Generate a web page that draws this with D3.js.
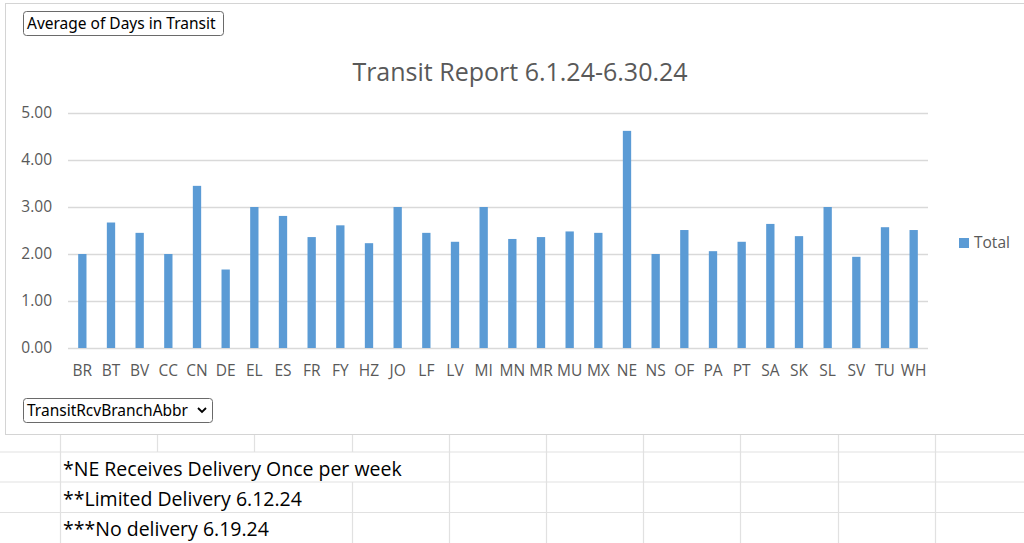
<!DOCTYPE html>
<html>
<head>
<meta charset="utf-8">
<script src="https://cdn.jsdelivr.net/npm/d3@7"></script>
<style>
  html, body { margin: 0; padding: 0; background: #fff; }
  svg { display: block; font-family: "Open Sans", "Noto Sans", sans-serif; }
</style>
</head>
<body>
<div id="chart"></div>
<script>
// Transit report: average days in transit by receiving branch.
const branches = ["BR", "BT", "BV", "CC", "CN", "DE", "EL", "ES", "FR", "FY",
  "HZ", "JO", "LF", "LV", "MI", "MN", "MR", "MU", "MX", "NE",
  "NS", "OF", "PA", "PT", "SA", "SK", "SL", "SV", "TU", "WH"];
const avgDays = [2.00, 2.67, 2.45, 2.00, 3.45, 1.67, 3.00, 2.81, 2.36, 2.61,
  2.23, 3.00, 2.45, 2.26, 3.00, 2.32, 2.36, 2.48, 2.45, 4.62,
  2.00, 2.51, 2.06, 2.26, 2.64, 2.38, 3.00, 1.94, 2.57, 2.51];
const yTicks = [0, 1, 2, 3, 4, 5];
const seriesName = "Total";
const chartTitle = "Transit Report 6.1.24-6.30.24";
const notes = [
  "*NE Receives Delivery Once per week",
  "**Limited Delivery 6.12.24",
  "***No delivery 6.19.24"
];

const rows = branches.map((b, i) => ({ label: b, value: avgDays[i] }));

const W = 1024, H = 543;
const svg = d3.select("#chart").append("svg")
  .attr("width", W).attr("height", H);

// spreadsheet grid below the chart
const gridColor = "#e1e1e1";
const colXs = d3.range(60, W + 1, 97.2);
const rowYs = [452, 482, 512.5];
const sheet = svg.append("g");
sheet.selectAll("line.row").data(rowYs).join("line")
  .attr("x1", 0).attr("x2", W)
  .attr("y1", (d) => d).attr("y2", (d) => d)
  .attr("stroke", gridColor).attr("stroke-width", 1.2);
// vertical cell borders; text overflow hides some of them
const hidden = [
  [],                 // header row 434-452
  [1, 2, 3],          // note 1 row
  [1, 2],             // note 2 row
  [1, 2]              // note 3 row
];
const bands = [[434, 452], [452, 482], [482, 512.5], [512.5, H]];
bands.forEach(([y0, y1], r) => {
  sheet.selectAll(null).data(colXs.filter((_, i) => !hidden[r].includes(i)))
    .join("line")
    .attr("x1", (d) => Math.round(d) + 0.5).attr("x2", (d) => Math.round(d) + 0.5)
    .attr("y1", y0).attr("y2", y1)
    .attr("stroke", gridColor).attr("stroke-width", 1.2);
});
sheet.selectAll("text.note").data(notes).join("text")
  .attr("x", 63)
  .attr("y", (d, i) => [476, 506, 536][i])
  .attr("fill", "#000")
  .attr("font-size", 19.5)
  .text((d) => d);

// chart box
svg.append("rect")
  .attr("x", 5.5).attr("y", 3.5)
  .attr("width", W + 10).attr("height", 431)
  .attr("fill", "#fff")
  .attr("stroke", "#d4d4d4");

const plot = { left: 68, right: 928, top: 113, bottom: 348 };

const x = d3.scaleBand()
  .domain(branches)
  .range([plot.left, plot.right])
  .paddingInner(0.71)
  .paddingOuter(0.355);

const y = d3.scaleLinear()
  .domain([0, 5])
  .range([plot.bottom, plot.top]);

const textGray = "#595959";

// gridlines and y labels
const yAxis = svg.append("g")
  .call(d3.axisLeft(y).tickValues(yTicks).tickFormat(d3.format(".2f"))
    .tickSize(-(plot.right - plot.left)).tickPadding(16))
  .attr("transform", `translate(${plot.left},0)`);
yAxis.select(".domain").remove();
yAxis.selectAll(".tick line").attr("stroke", "#d9d9d9").attr("stroke-width", 1.3);
yAxis.selectAll(".tick text")
  .attr("fill", textGray).attr("font-size", 15.5)
  .attr("font-family", "\"Open Sans\", sans-serif");

// x labels
const xAxis = svg.append("g")
  .attr("transform", `translate(0,${plot.bottom})`)
  .call(d3.axisBottom(x).tickSize(0).tickPadding(17));
xAxis.select(".domain").remove();
xAxis.selectAll(".tick text")
  .attr("fill", textGray).attr("font-size", 15.5)
  .attr("font-family", "\"Open Sans\", sans-serif");

// bars
svg.append("g").selectAll("rect").data(rows).join("rect")
  .attr("x", (d) => x(d.label))
  .attr("y", (d) => y(d.value))
  .attr("width", x.bandwidth())
  .attr("height", (d) => y(0) - y(d.value))
  .attr("fill", "#5b9bd5");

// title
svg.append("text")
  .attr("x", 520).attr("y", 81)
  .attr("text-anchor", "middle")
  .attr("fill", textGray)
  .attr("font-size", 25)
  .text(chartTitle);

// legend
svg.append("rect")
  .attr("x", 959).attr("y", 238)
  .attr("width", 10).attr("height", 10)
  .attr("fill", "#5b9bd5");
svg.append("text")
  .attr("x", 974).attr("y", 248)
  .attr("fill", textGray).attr("font-size", 15.5)
  .text(seriesName);

// pivot-chart field buttons
function fieldButton(x0, y0, w, label, dropdown) {
  const g = svg.append("g");
  g.append("rect")
    .attr("x", x0 + 0.5).attr("y", y0 + 0.5)
    .attr("width", w).attr("height", 24)
    .attr("rx", 3)
    .attr("fill", "#fff").attr("stroke", "#6a6a6a");
  g.append("text")
    .attr("x", x0 + 4).attr("y", y0 + 18)
    .attr("fill", "#000").attr("font-size", 15.5)
    .attr("font-family", "\"Noto Sans\", sans-serif")
    .text(label);
  if (dropdown) {
    const cx = x0 + w - 10, cy = y0 + 12;
    g.append("path")
      .attr("d", `M ${cx - 4} ${cy - 2} L ${cx} ${cy + 2} L ${cx + 4} ${cy - 2}`)
      .attr("fill", "none").attr("stroke", "#000").attr("stroke-width", 1.8);
  }
}
fieldButton(23, 11, 200, "Average of Days in Transit", false);
fieldButton(23, 398, 189, "TransitRcvBranchAbbr", true);
</script>
</body>
</html>
